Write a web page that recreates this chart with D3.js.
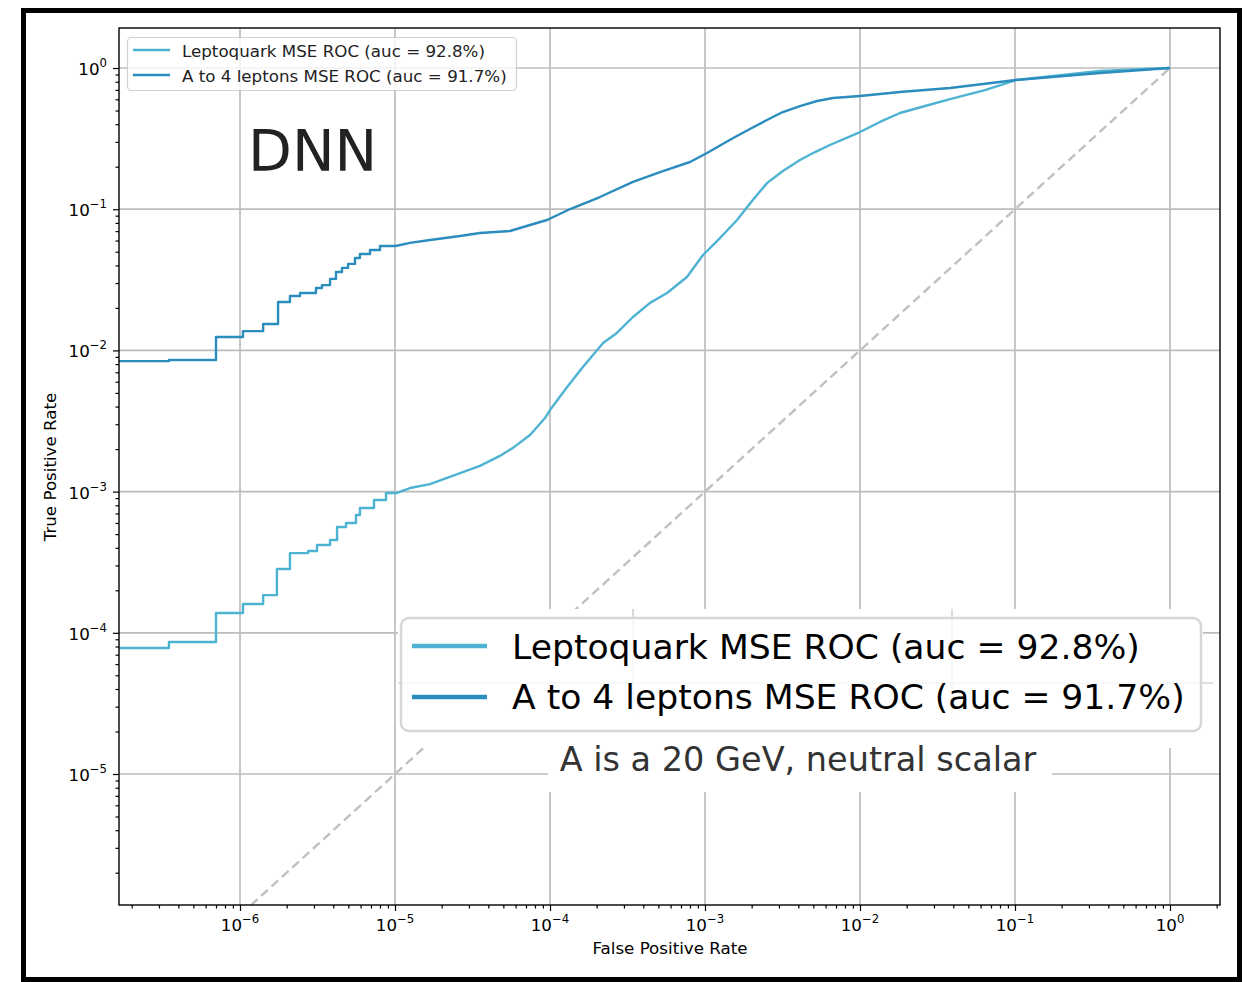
<!DOCTYPE html>
<html>
<head>
<meta charset="utf-8">
<script src="https://cdn.jsdelivr.net/npm/d3@7"></script>
<style>
body { margin: 0; background: #fff; }
svg { display: block; font-family: "DejaVu Sans", sans-serif; }
</style>
</head>
<body>
<svg id="chart" width="1249" height="982"></svg>
<script>
// series (fpr, tpr)
const seriesNames = ["Leptoquark MSE ROC (auc = 92.8%)", "A to 4 leptons MSE ROC (auc = 91.7%)"];
const seriesColors = ["#4eb3d3", "#2b8cbe"];

const leptoquarkRoc = [
  [1e-7,7.8e-5],[3.48e-7,7.8e-5],[3.48e-7,8.6e-5],[7.0e-7,8.6e-5],[7.0e-7,1.38e-4],
  [1.045e-6,1.38e-4],[1.045e-6,1.60e-4],[1.41e-6,1.60e-4],[1.41e-6,1.85e-4],[1.73e-6,1.85e-4],
  [1.73e-6,2.83e-4],[2.10e-6,2.83e-4],[2.10e-6,3.67e-4],[2.75e-6,3.67e-4],[2.75e-6,3.80e-4],
  [3.14e-6,3.80e-4],[3.14e-6,4.19e-4],[3.81e-6,4.19e-4],[3.81e-6,4.54e-4],[4.23e-6,4.54e-4],
  [4.23e-6,5.61e-4],[4.83e-6,5.61e-4],[4.83e-6,5.99e-4],[5.6e-6,5.99e-4],[5.6e-6,6.83e-4],
  [5.94e-6,6.83e-4],[5.94e-6,7.65e-4],[7.32e-6,7.65e-4],[7.32e-6,8.72e-4],[8.75e-6,8.72e-4],
  [8.75e-6,9.78e-4],[1.03e-5,9.78e-4],[1.25e-5,1.06e-3],[1.68e-5,1.13e-3],[2.63e-5,1.35e-3],
  [3.53e-5,1.52e-3],[4.75e-5,1.79e-3],[5.77e-5,2.04e-3],[7.43e-5,2.52e-3],[9.29e-5,3.32e-3],
  [1.0e-4,3.78e-3],[1.29e-4,5.5e-3],[1.63e-4,7.63e-3],[2.2e-4,0.01128],[2.7e-4,0.0133],
  [3.43e-4,0.01725],[4.42e-4,0.0217],[5.69e-4,0.0255],[7.65e-4,0.0331],[9.71e-4,0.0474],
  [1.25e-3,0.0625],[1.61e-3,0.0839],[2.01e-3,0.1143],[2.51e-3,0.153],[3.18e-3,0.1866],
  [4.1e-3,0.223],[5.13e-3,0.254],[6.4e-3,0.285],[0.01,0.352],[0.01345,0.415],
  [0.0181,0.480],[0.0263,0.538],[0.0381,0.603],[0.064,0.698],[0.1014,0.822],[0.353,0.952],[1,1]
];

const aToLeptonsRoc = [
  [1e-7,0.0084],[3.48e-7,0.0084],[3.48e-7,0.00855],[7.0e-7,0.00855],[7.0e-7,0.01245],
  [1.045e-6,0.01245],[1.045e-6,0.0137],[1.41e-6,0.0137],[1.41e-6,0.0154],[1.76e-6,0.0154],
  [1.76e-6,0.022],[2.1e-6,0.022],[2.1e-6,0.0243],[2.44e-6,0.0243],[2.44e-6,0.0255],
  [3.09e-6,0.0255],[3.09e-6,0.0277],[3.38e-6,0.0277],[3.38e-6,0.029],[3.81e-6,0.029],
  [3.81e-6,0.0321],[4.16e-6,0.0321],[4.16e-6,0.0359],[4.55e-6,0.0359],[4.55e-6,0.0384],
  [4.98e-6,0.0384],[4.98e-6,0.041],[5.52e-6,0.041],[5.52e-6,0.0451],[5.94e-6,0.0451],
  [5.94e-6,0.0482],[6.9e-6,0.0482],[6.9e-6,0.0514],[8.0e-6,0.0514],[8.0e-6,0.0549],
  [1.01e-5,0.0549],[1.25e-5,0.0577],[1.68e-5,0.0605],[2.63e-5,0.0646],[3.53e-5,0.0678],
  [5.52e-5,0.0701],[7.43e-5,0.0773],[9.57e-5,0.0839],[1.35e-4,0.1003],[2.1e-4,0.122],
  [3.43e-4,0.156],[5.13e-4,0.183],[8.0e-4,0.216],[1.03e-3,0.25],[1.52e-3,0.319],
  [1.95e-3,0.370],[2.51e-3,0.428],[3.18e-3,0.488],[4.1e-3,0.538],[5.28e-3,0.584],
  [6.7e-3,0.613],[0.01,0.634],[0.0181,0.676],[0.0381,0.722],[0.1014,0.822],[0.353,0.922],[1,1]
];

const chanceLine = [[1e-8,1e-8],[1,1]];
const xTickExps = [-6,-5,-4,-3,-2,-1,0];
const yTickExps = [-5,-4,-3,-2,-1,0];
const xLabel = "False Positive Rate";
const yLabel = "True Positive Rate";
const panelLabel = "DNN";
const noteText = "A is a 20 GeV, neutral scalar";

const plot = {left:119, right:1220, top:28, bottom:905};
const svg = d3.select("#chart");

const x = d3.scaleLog().domain([1.657e-7, 2.102]).range([plot.left, plot.right]);
const y = d3.scaleLog().domain([1.181e-6, 1.9205]).range([plot.bottom, plot.top]);

function minorTicks(scale){
    const [a,b] = scale.domain();
    const out = [];
    for (let e = Math.floor(Math.log10(a)); e <= Math.ceil(Math.log10(b)); e++){
        for (let m = 2; m <= 9; m++){
            const v = m*Math.pow(10,e);
            if (v >= a && v <= b) out.push(v);
        }
    }
    return out;
}

svg.append("defs").append("clipPath").attr("id","clip")
    .append("rect")
    .attr("x", plot.left).attr("y", plot.top)
    .attr("width", plot.right-plot.left).attr("height", plot.bottom-plot.top);

// grid
const grid = svg.append("g").attr("stroke","#bdbdbd").attr("stroke-width",1.7);
grid.selectAll(".gx").data(xTickExps).join("line")
    .attr("x1", d => x(Math.pow(10,d))).attr("x2", d => x(Math.pow(10,d)))
    .attr("y1", plot.top).attr("y2", plot.bottom);
grid.selectAll(".gy").data(yTickExps).join("line")
    .attr("y1", d => y(Math.pow(10,d))).attr("y2", d => y(Math.pow(10,d)))
    .attr("x1", plot.left).attr("x2", plot.right);

const line = d3.line().x(d => x(d[0])).y(d => y(d[1]));
const curves = svg.append("g").attr("clip-path","url(#clip)");
curves.append("path").datum(chanceLine)
    .attr("d", line).attr("fill","none")
    .attr("stroke","#c0c0c0").attr("stroke-width",2.4).attr("stroke-dasharray","9,5");
[leptoquarkRoc, aToLeptonsRoc].forEach((s,i) => {
    curves.append("path").datum(s)
        .attr("d", line).attr("fill","none")
        .attr("stroke", seriesColors[i]).attr("stroke-width",2.4)
        .attr("stroke-linejoin","round");
});

// axes
const axes = svg.append("g");
axes.append("g").attr("transform",`translate(0,${plot.bottom})`)
    .call(d3.axisBottom(x).tickValues(xTickExps.map(e => Math.pow(10,e))).tickSize(6).tickFormat(""));
axes.append("g").attr("transform",`translate(0,${plot.bottom})`)
    .call(d3.axisBottom(x).tickValues(minorTicks(x)).tickSize(3.5).tickFormat(""));
axes.append("g").attr("transform",`translate(${plot.left},0)`)
    .call(d3.axisLeft(y).tickValues(yTickExps.map(e => Math.pow(10,e))).tickSize(6).tickFormat(""));
axes.append("g").attr("transform",`translate(${plot.left},0)`)
    .call(d3.axisLeft(y).tickValues(minorTicks(y)).tickSize(3.5).tickFormat(""));
axes.selectAll(".domain").remove();
axes.selectAll(".tick line").attr("stroke","#000").attr("stroke-width",1.2);

svg.append("rect")
    .attr("x", plot.left).attr("y", plot.top)
    .attr("width", plot.right-plot.left).attr("height", plot.bottom-plot.top)
    .attr("fill","none").attr("stroke","#000").attr("stroke-width",1.4);

function powLabel(sel, e){
    sel.append("tspan").text("10");
    sel.append("tspan").attr("dy",-8).attr("font-size",11.7).text(e < 0 ? "\u2212" + (-e) : String(e));
}
xTickExps.forEach(e => {
    svg.append("text").attr("x", x(Math.pow(10,e))).attr("y", 931)
        .attr("text-anchor","middle").attr("font-size",16.7).attr("fill","#000")
        .call(powLabel, e);
});
yTickExps.forEach(e => {
    svg.append("text").attr("x", 107).attr("y", y(Math.pow(10,e)) + 7)
        .attr("text-anchor","end").attr("font-size",16.7).attr("fill","#000")
        .call(powLabel, e);
});

svg.append("text").attr("x", 670).attr("y", 954)
    .attr("text-anchor","middle").attr("font-size",16.7).text(xLabel);
svg.append("text").attr("transform","translate(56,467) rotate(-90)")
    .attr("text-anchor","middle").attr("font-size",16.7).text(yLabel);

// small legend
const leg = svg.append("g");
leg.append("rect").attr("x",127.5).attr("y",37.5).attr("width",389).attr("height",53).attr("rx",4)
    .attr("fill","#fff").attr("fill-opacity",0.8).attr("stroke","#d0d0d0").attr("stroke-width",1.2);
seriesNames.forEach((n,i) => {
    leg.append("line").attr("x1",133).attr("x2",170).attr("y1",50+i*25).attr("y2",50+i*25)
        .attr("stroke",seriesColors[i]).attr("stroke-width",2.4);
    leg.append("text").attr("x",182).attr("y",56.5+i*25).attr("font-size",16.7).attr("fill","#222").text(n);
});

svg.append("text").attr("x",248).attr("y",171).attr("font-size",57).attr("fill","#222").text(panelLabel);

// pasted big legend and note
const big = svg.append("g");
big.append("rect").attr("x",398).attr("y",609).attr("width",805).attr("height",139).attr("fill","#fff");
big.append("rect").attr("x",548).attr("y",731).attr("width",504).attr("height",61).attr("fill","#fff");
big.append("line").attr("x1",398).attr("x2",1213).attr("y1",683).attr("y2",683)
    .attr("stroke","#d4d4d4").attr("stroke-width",1.7);
[633, 952].forEach(px => {
    big.append("line").attr("x1",px).attr("x2",px).attr("y1",609).attr("y2",714)
        .attr("stroke","#d4d4d4").attr("stroke-width",1.7);
});
big.append("rect").attr("x",401).attr("y",618).attr("width",800).attr("height",113).attr("rx",8)
    .attr("fill","#fff").attr("fill-opacity",0.8).attr("stroke","#d6d6d6").attr("stroke-width",2.5);
seriesNames.forEach((n,i) => {
    big.append("line").attr("x1",412).attr("x2",487).attr("y1",646+i*51).attr("y2",646+i*51)
        .attr("stroke",seriesColors[i]).attr("stroke-width",4.5);
    big.append("text").attr("x",512).attr("y",659+i*50).attr("font-size",34.6).attr("fill","#000").text(n);
});
big.append("text").attr("x",798).attr("y",771).attr("text-anchor","middle")
    .attr("font-size",33.5).attr("fill","#333").text(noteText);

// outer frame
svg.append("rect").attr("x",23.5).attr("y",10.5).attr("width",1216).attr("height",969)
    .attr("fill","none").attr("stroke","#000").attr("stroke-width",5);
</script>
</body>
</html>
